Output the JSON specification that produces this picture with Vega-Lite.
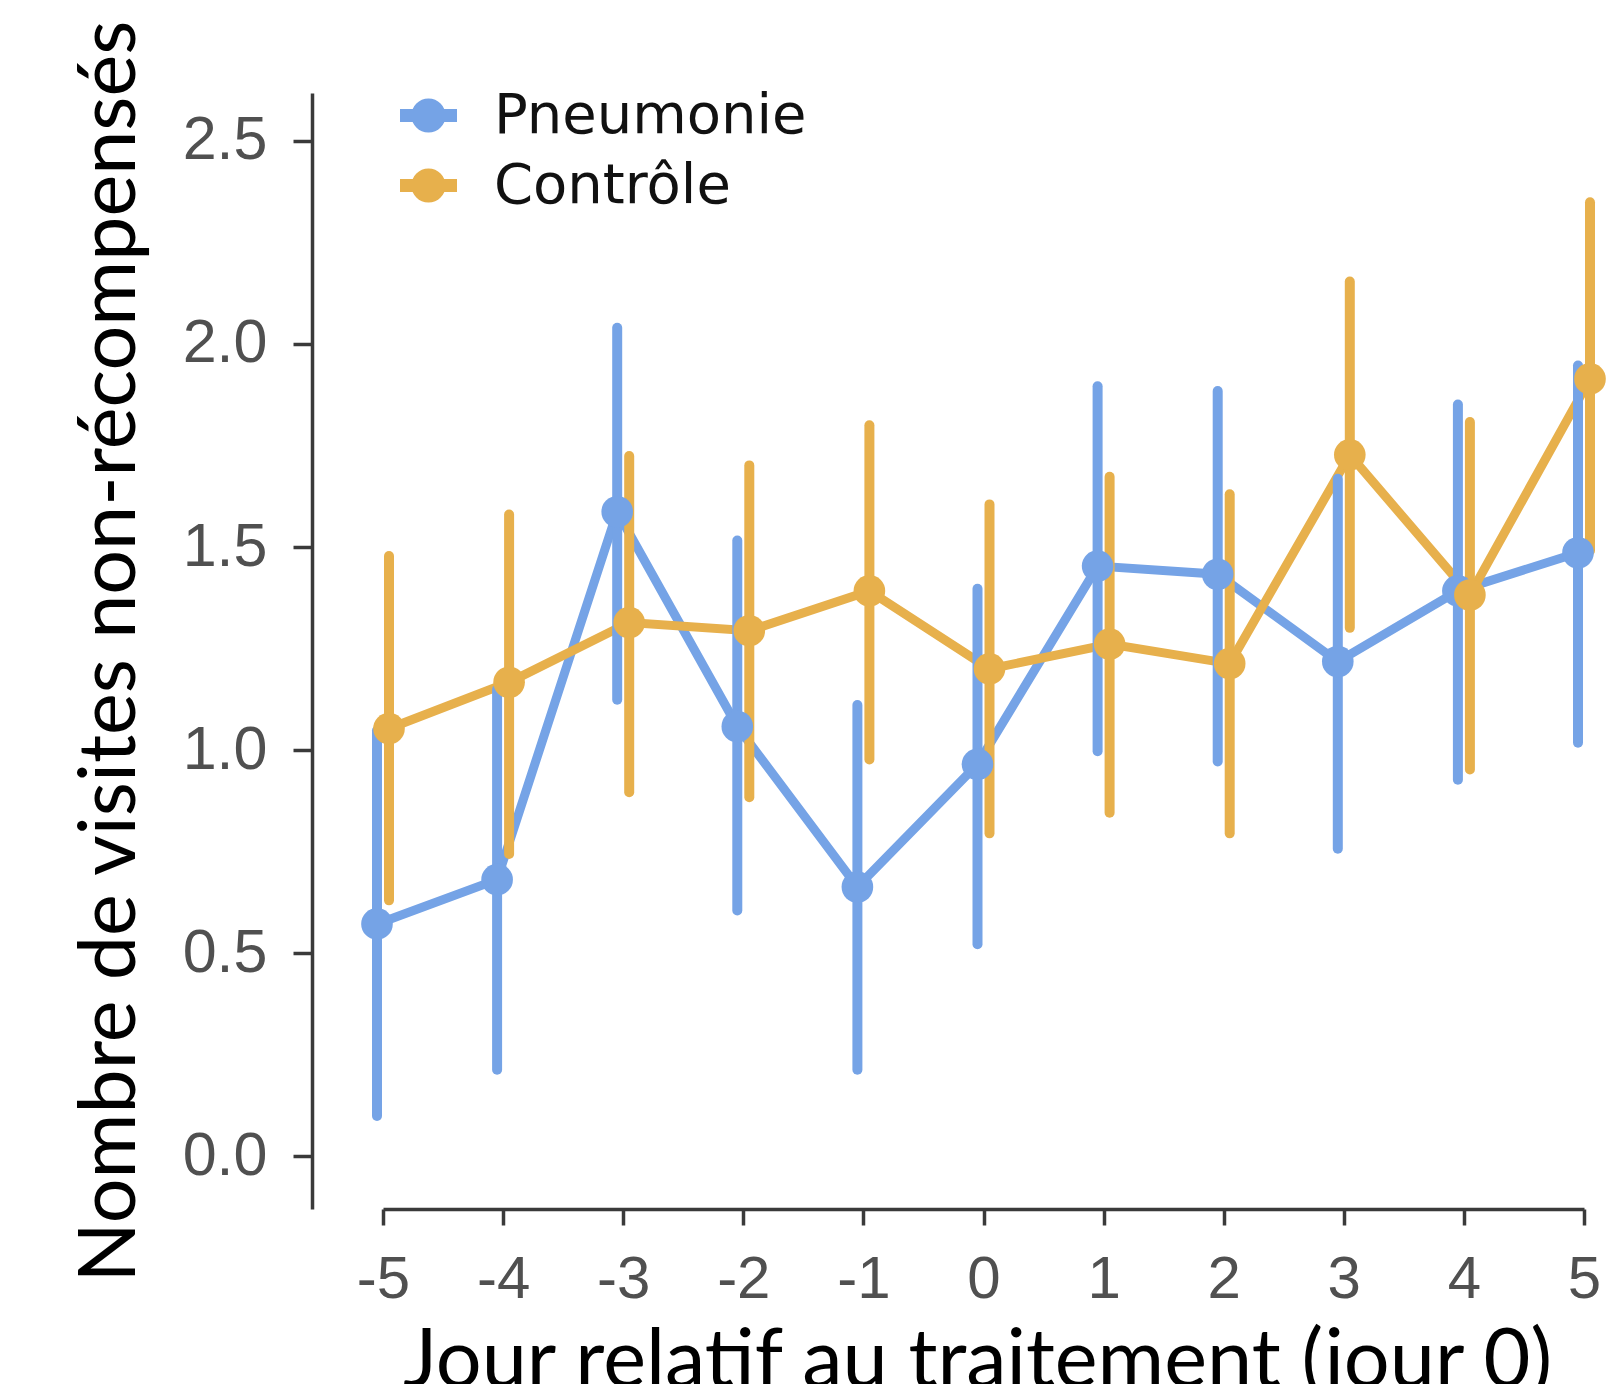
{
  "$schema": "https://vega.github.io/schema/vega-lite/v6.json",
  "autosize": {"type": "none"},
  "width": 1301,
  "height": 1116,
  "padding": {"left": 312, "top": 93, "right": 0, "bottom": 175},
  "background": "white",
  "config": {"view": {"stroke": null}},
  "data": {
    "values": [
      {"jour": -5, "groupe": "Pneumonie", "moyenne": 0.572, "bas": 0.099, "haut": 1.048},
      {"jour": -4, "groupe": "Pneumonie", "moyenne": 0.681, "bas": 0.213, "haut": 1.149},
      {"jour": -3, "groupe": "Pneumonie", "moyenne": 1.587, "bas": 1.124, "haut": 2.04},
      {"jour": -2, "groupe": "Pneumonie", "moyenne": 1.058, "bas": 0.605, "haut": 1.516},
      {"jour": -1, "groupe": "Pneumonie", "moyenne": 0.663, "bas": 0.213, "haut": 1.111},
      {"jour": 0, "groupe": "Pneumonie", "moyenne": 0.965, "bas": 0.522, "haut": 1.397},
      {"jour": 1, "groupe": "Pneumonie", "moyenne": 1.453, "bas": 0.997, "haut": 1.896},
      {"jour": 2, "groupe": "Pneumonie", "moyenne": 1.433, "bas": 0.972, "haut": 1.884},
      {"jour": 3, "groupe": "Pneumonie", "moyenne": 1.218, "bas": 0.757, "haut": 1.668},
      {"jour": 4, "groupe": "Pneumonie", "moyenne": 1.392, "bas": 0.927, "haut": 1.851},
      {"jour": 5, "groupe": "Pneumonie", "moyenne": 1.486, "bas": 1.018, "haut": 1.947},
      {"jour": -5, "groupe": "Contrôle", "moyenne": 1.053, "bas": 0.63, "haut": 1.478},
      {"jour": -4, "groupe": "Contrôle", "moyenne": 1.167, "bas": 0.744, "haut": 1.58},
      {"jour": -3, "groupe": "Contrôle", "moyenne": 1.314, "bas": 0.896, "haut": 1.724},
      {"jour": -2, "groupe": "Contrôle", "moyenne": 1.294, "bas": 0.884, "haut": 1.701},
      {"jour": -1, "groupe": "Contrôle", "moyenne": 1.392, "bas": 0.977, "haut": 1.8},
      {"jour": 0, "groupe": "Contrôle", "moyenne": 1.2, "bas": 0.795, "haut": 1.605},
      {"jour": 1, "groupe": "Contrôle", "moyenne": 1.261, "bas": 0.846, "haut": 1.673},
      {"jour": 2, "groupe": "Contrôle", "moyenne": 1.213, "bas": 0.795, "haut": 1.63},
      {"jour": 3, "groupe": "Contrôle", "moyenne": 1.727, "bas": 1.301, "haut": 2.154},
      {"jour": 4, "groupe": "Contrôle", "moyenne": 1.382, "bas": 0.952, "haut": 1.808},
      {"jour": 5, "groupe": "Contrôle", "moyenne": 1.914, "bas": 1.491, "haut": 2.349}
    ]
  },
  "encoding": {
    "x": {
      "field": "jour", "type": "ordinal",
      "sort": "ascending",
      "scale": {"type": "point", "range": [71, 1272], "padding": 0},
      "axis": {
        "labelExpr": "'' + datum.value",
        "grid": false,
        "labelAngle": 0,
        "domainColor": "#3a3a3a", "domainWidth": 3.5,
        "tickColor": "#3a3a3a", "tickWidth": 3.5, "tickSize": 16,
        "labelFont": "Liberation Sans", "labelFontSize": 60, "labelColor": "#505050",
        "labelPadding": 25, "labelFlush": false, "labelOverlap": false,
        "title": "Jour relatif au traitement (jour 0)",
        "titleFont": "Lato", "titleFontSize": 81, "titleFontWeight": "normal", "titleColor": "#000000",
        "titleX": 665, "titleY": 177, "titleAnchor": null, "titleAlign": "center", "titleBaseline": "alphabetic"
      }
    },
    "xOffset": {
      "field": "groupe", "type": "nominal",
      "sort": ["Pneumonie", "Contrôle"],
      "scale": {"type": "point", "range": [-6, 6], "padding": 0}
    },
    "color": {
      "field": "groupe", "type": "nominal",
      "sort": ["Pneumonie", "Contrôle"],
      "scale": {"domain": ["Pneumonie", "Contrôle"], "range": ["#75a3e6", "#e7b04c"]},
      "legend": {
        "title": null,
        "orient": "none",
        "legendX": 88,
        "legendY": -6,
        "padding": 0,
        "symbolType": "M -0.6 0 A 0.6 0.6 0 1 1 0.6 0 A 0.6 0.6 0 1 1 -0.6 0 Z M -1 -0.23 L 1 -0.23 L 1 0.23 L -1 0.23 Z",
        "symbolSize": 3249,
        "symbolStrokeWidth": 0,
        "symbolOpacity": 1,
        "labelFont": "DejaVu Sans",
        "labelFontSize": 56,
        "labelColor": "#111111",
        "labelLimit": 0,
        "labelOffset": 37,
        "rowPadding": 13
      }
    }
  },
  "layer": [
    {
      "mark": {"type": "line", "strokeWidth": 9},
      "encoding": {
        "y": {
          "field": "moyenne", "type": "quantitative",
          "scale": {"domain": [-0.13, 2.618], "nice": false, "zero": false},
          "axis": {
            "values": [0, 0.5, 1, 1.5, 2, 2.5],
            "format": ".1f",
            "grid": false,
            "domainColor": "#3a3a3a", "domainWidth": 3.5,
            "tickColor": "#3a3a3a", "tickWidth": 3.5, "tickSize": 19,
            "labelFont": "Liberation Sans", "labelFontSize": 61, "labelColor": "#505050",
            "labelPadding": 26, "labelFlush": false, "labelOverlap": false,
            "title": "Nombre de visites non-récompensés",
            "titleFont": "Lato", "titleFontSize": 79, "titleFontWeight": "normal", "titleColor": "#000000",
            "titleAngle": -90, "titleX": -178, "titleY": 558, "titleAnchor": null, "titleAlign": "center", "titleBaseline": "alphabetic"
          }
        }
      }
    },
    {
      "mark": {"type": "rule", "strokeWidth": 10, "strokeCap": "round"},
      "encoding": {
        "y": {"field": "bas", "type": "quantitative"},
        "y2": {"field": "haut"}
      }
    },
    {
      "mark": {"type": "point", "filled": true, "opacity": 1, "size": 1000},
      "encoding": {
        "y": {"field": "moyenne", "type": "quantitative"}
      }
    }
  ]
}
